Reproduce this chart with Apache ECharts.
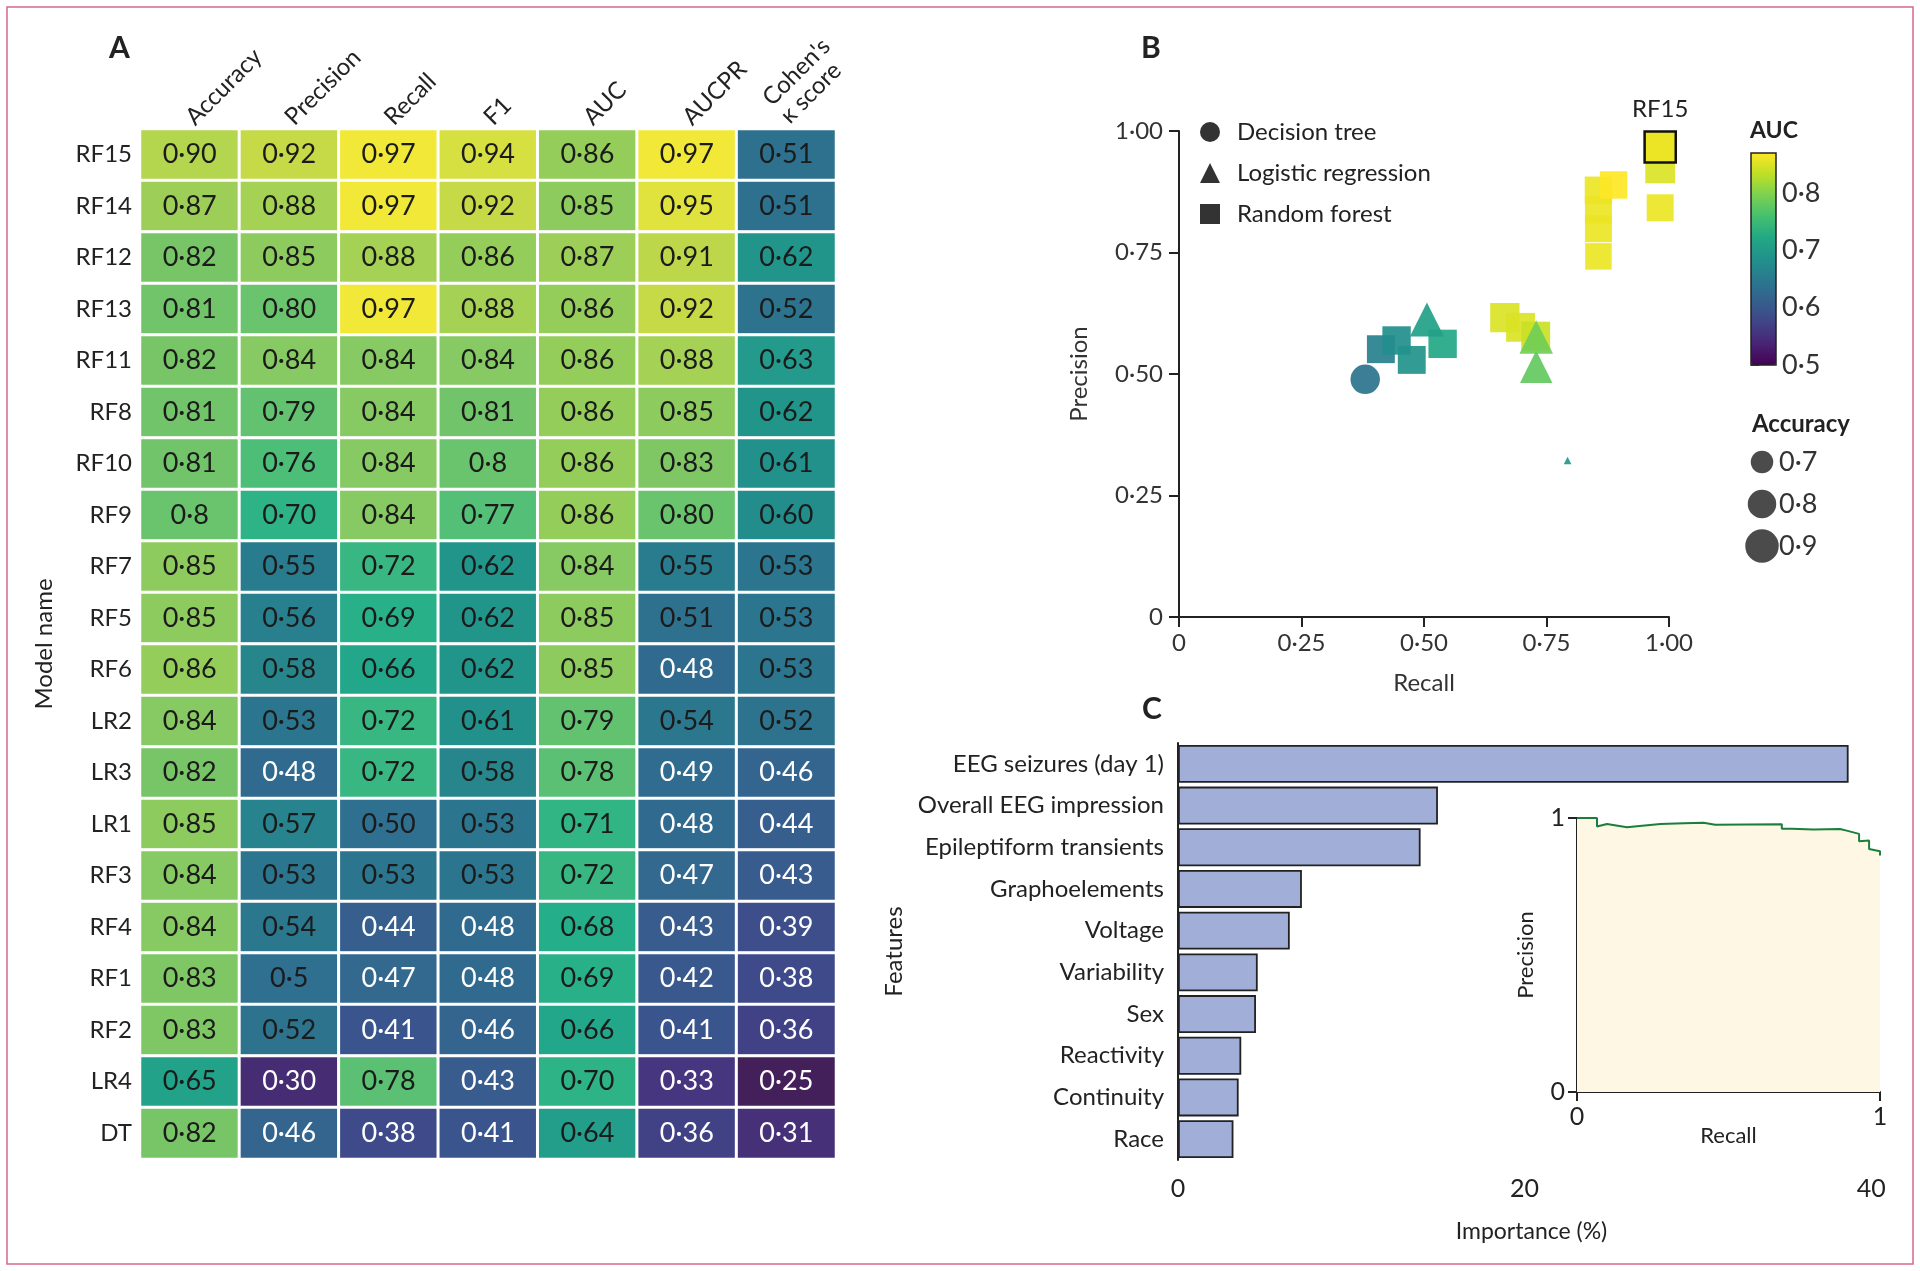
<!DOCTYPE html>
<html><head><meta charset="utf-8">
<script src="https://cdn.jsdelivr.net/npm/echarts@6/dist/echarts.min.js"></script>
<style>html,body{margin:0;padding:0;background:#fff}#c{width:1920px;height:1271px}</style>
</head><body><div id="c"></div>
<script>
// ---------- Panel A: heatmap ----------
const models = ['RF15','RF14','RF12','RF13','RF11','RF8','RF10','RF9','RF7','RF5','RF6','LR2','LR3','LR1','RF3','RF4','RF1','RF2','LR4','DT'];
const metricNames = ['Accuracy','Precision','Recall','F1','AUC','AUCPR',"Cohen's\nκ score"];
const accuracy  = ['0.90','0.87','0.82','0.81','0.82','0.81','0.81','0.8','0.85','0.85','0.86','0.84','0.82','0.85','0.84','0.84','0.83','0.83','0.65','0.82'];
const precision = ['0.92','0.88','0.85','0.80','0.84','0.79','0.76','0.70','0.55','0.56','0.58','0.53','0.48','0.57','0.53','0.54','0.5','0.52','0.30','0.46'];
const recall    = ['0.97','0.97','0.88','0.97','0.84','0.84','0.84','0.84','0.72','0.69','0.66','0.72','0.72','0.50','0.53','0.44','0.47','0.41','0.78','0.38'];
const f1        = ['0.94','0.92','0.86','0.88','0.84','0.81','0.8','0.77','0.62','0.62','0.62','0.61','0.58','0.53','0.53','0.48','0.48','0.46','0.43','0.41'];
const auc       = ['0.86','0.85','0.87','0.86','0.86','0.86','0.86','0.86','0.84','0.85','0.85','0.79','0.78','0.71','0.72','0.68','0.69','0.66','0.70','0.64'];
const aucpr     = ['0.97','0.95','0.91','0.92','0.88','0.85','0.83','0.80','0.55','0.51','0.48','0.54','0.49','0.48','0.47','0.43','0.42','0.41','0.33','0.36'];
const kappa     = ['0.51','0.51','0.62','0.52','0.63','0.62','0.61','0.60','0.53','0.53','0.53','0.52','0.46','0.44','0.43','0.39','0.38','0.36','0.25','0.31'];

// ---------- Panel B: scatter (positions) ----------
const scatterModels    = ['DT','RF2','RF4','RF1','LR1','RF3','RF6','RF5','RF7','LR2','LR3','LR4','RF9','RF10','RF8','RF11','RF12','RF13','RF14','RF15'];
const scatterRecall    = [0.380,0.412,0.444,0.475,0.506,0.538,0.665,0.697,0.728,0.729,0.729,0.793,0.856,0.856,0.856,0.856,0.887,0.982,0.982,0.982];
const scatterPrecision = [0.489,0.551,0.569,0.529,0.612,0.562,0.616,0.596,0.578,0.576,0.515,0.322,0.742,0.799,0.838,0.878,0.889,0.842,0.923,0.967];
const highlightModel = 'RF15';
const colorbarTicks = [0.5, 0.6, 0.7, 0.8];
const accLegendValues = ['0.7','0.8','0.9'];

// ---------- Panel C: feature importance ----------
const features = ['EEG seizures (day 1)','Overall EEG impression','Epileptiform transients','Graphoelements','Voltage','Variability','Sex','Reactivity','Continuity','Race'];
const importance = [38.7, 15.0, 14.0, 7.15, 6.45, 4.6, 4.5, 3.65, 3.5, 3.2];
const importanceTicks = [0, 20, 40];

// inset precision-recall curve
const prRecall    = [0, 0.066, 0.066, 0.099, 0.165, 0.198, 0.275, 0.352, 0.418, 0.456, 0.56, 0.676, 0.676, 0.709, 0.709, 0.78, 0.868, 0.89, 0.931, 0.931, 0.964, 0.964, 1.0, 1.0];
const prPrecision = [1.0, 1.0, 0.969, 0.978, 0.966, 0.970, 0.978, 0.981, 0.983, 0.975, 0.976, 0.977, 0.961, 0.961, 0.954, 0.958, 0.960, 0.954, 0.942, 0.915, 0.918, 0.887, 0.879, 0.863];

// ---------- styling ----------
const SANS = "Lato, 'Open Sans', sans-serif";
const NARROW = "Lato, sans-serif";
const INK = '#222';
const viridis = ['#440154','#482475','#414487','#355f8d','#2a788e','#21918c','#22a884','#44bf70','#7ad151','#bddf26','#fde725'];
const heatPalette = ['#43205a','#47337e','#3c508c','#33678f','#2b778e','#22918b','#24b08a','#49bd7a','#7cc666','#b2d44f','#f2e837'];
const accStops = [0.65, 0.7, 0.8, 0.9], sizeStops = [7, 22.5, 28.5, 33.5];
function sizeFor(a) {
  if (a <= accStops[0]) return sizeStops[0];
  for (let i = 1; i < accStops.length; i++) {
    if (a <= accStops[i]) {
      const t = (a - accStops[i-1]) / (accStops[i] - accStops[i-1]);
      return sizeStops[i-1] + t * (sizeStops[i] - sizeStops[i-1]);
    }
  }
  return sizeStops[sizeStops.length-1];
}
const dot = s => String(s).replace('.', '·');
const fmt2 = v => v === 0 ? '0' : dot(v.toFixed(2));

const metricCols = [accuracy, precision, recall, f1, auc, aucpr, kappa];
const hmData = [];
metricCols.forEach((col, j) => col.forEach((s, i) => {
  const v = parseFloat(s);
  hmData.push({ value: [j, i, v], label: { color: v < 0.5 ? '#ffffff' : '#1b1b1b' } });
}));
const headerData = metricNames.map(n => n.indexOf('\n') >= 0
  ? { value: n, textStyle: { verticalAlign: 'bottom', padding: [0, 0, -10, 0] } }
  : n);

const groups = { rf: [], dt: [], lr: [] };
scatterModels.forEach((m, k) => {
  const idx = models.indexOf(m);
  const g = m.startsWith('RF') ? 'rf' : (m.startsWith('LR') ? 'lr' : 'dt');
  const item = { value: [scatterRecall[k], scatterPrecision[k], parseFloat(auc[idx]), parseFloat(accuracy[idx]), m] };
  if (m === highlightModel) {
    item.itemStyle = { borderColor: '#111', borderWidth: 2.5, opacity: 1 };
    item.label = { show: true, formatter: m, position: 'top', distance: 9, fontFamily: NARROW, fontSize: 24, color: INK };
  }
  groups[g].push(item);
});

const axisLineStyle = { color: INK, width: 2 };

const option = {
  animation: false,
  backgroundColor: '#fff',
  graphic: [{ type: 'rect', silent: true, shape: { x: 7, y: 7, width: 1906, height: 1257 }, style: { fill: 'none', stroke: '#d4698a', lineWidth: 1.5 } }],
  title: [
    { text: 'A', left: 109, top: 33, padding: 0, textStyle: { fontFamily: SANS, fontSize: 30, fontWeight: 'bold', color: INK } },
    { text: 'B', left: 1141, top: 33, padding: 0, textStyle: { fontFamily: SANS, fontSize: 30, fontWeight: 'bold', color: INK } },
    { text: 'C', left: 1142, top: 694, padding: 0, textStyle: { fontFamily: SANS, fontSize: 30, fontWeight: 'bold', color: INK } },
    { text: 'AUC', left: 1750, top: 119, padding: 0, textStyle: { fontFamily: SANS, fontSize: 23, fontWeight: 'bold', color: INK } },
    { text: 'Accuracy', left: 1752, top: 412, padding: 0, textStyle: { fontFamily: SANS, fontSize: 24, fontWeight: 'bold', color: INK } }
  ],
  legend: {
    orient: 'vertical', left: 1200, top: 120, padding: 0, itemWidth: 20, itemHeight: 20, itemGap: 17,
    selectedMode: false,
    textStyle: { fontFamily: SANS, fontSize: 24, color: INK, padding: [0, 0, 0, 12] },
    data: [
      { name: 'Decision tree', icon: 'circle', itemStyle: { color: INK } },
      { name: 'Logistic regression', icon: 'triangle', itemStyle: { color: INK } },
      { name: 'Random forest', icon: 'rect', itemStyle: { color: INK } }
    ]
  },
  visualMap: [
    { type: 'continuous', show: false, seriesIndex: 0, dimension: 2, min: 0.25, max: 0.97, inRange: { color: heatPalette } },
    { type: 'continuous', seriesIndex: [1, 2, 3], dimension: 2, min: 0.5, max: 0.87, inRange: { color: viridis },
      left: 1751, top: 153, itemWidth: 25, itemHeight: 212, padding: 0, calculable: false, hoverLink: false }
  ],
  grid: [
    { left: 140, top: 129, width: 696, height: 1030 },
    { left: 1179, top: 131, width: 490, height: 486 },
    { left: 1178, top: 743, width: 707, height: 417 },
    { left: 1751, top: 153, width: 25, height: 212, show: true, backgroundColor: 'transparent', borderColor: INK, borderWidth: 1.5, z: 6 },
    { left: 1750, top: 441, width: 24, height: 126 },
    { left: 1577, top: 818, width: 303, height: 274 }
  ],
  xAxis: [
    { gridIndex: 0, type: 'category', data: headerData, position: 'top', axisLine: { show: false }, axisTick: { show: false },
      axisLabel: { rotate: -45, interval: 0, margin: 8, fontFamily: SANS, fontSize: 24, color: INK, lineHeight: 25 } },
    { gridIndex: 1, type: 'value', min: 0, max: 1, interval: 0.25, splitLine: { show: false },
      axisLine: { lineStyle: axisLineStyle }, axisTick: { length: 10, lineStyle: axisLineStyle },
      axisLabel: { margin: 14, fontFamily: SANS, fontSize: 24, color: '#333', formatter: fmt2 },
      name: 'Recall', nameLocation: 'middle', nameGap: 54, nameMoveOverlap: false, nameTextStyle: { fontFamily: SANS, fontSize: 24, color: '#333' } },
    { gridIndex: 2, type: 'value', min: 0, max: 40.8, interval: 20, splitLine: { show: false },
      axisLine: { lineStyle: axisLineStyle },
      axisTick: { length: 10, customValues: importanceTicks, lineStyle: axisLineStyle },
      axisLabel: { customValues: importanceTicks, margin: 16, fontFamily: NARROW, fontSize: 25, color: INK,
        formatter: v => (v % 20 === 0 ? String(v) : '') },
      name: 'Importance (%)', nameLocation: 'middle', nameGap: 60, nameMoveOverlap: false, nameTextStyle: { fontFamily: SANS, fontSize: 23, color: INK } },
    { gridIndex: 3, type: 'value', show: false, min: 0, max: 1 },
    { gridIndex: 4, type: 'value', show: false, min: -1, max: 1 },
    { gridIndex: 5, type: 'value', min: 0, max: 1, interval: 1, splitLine: { show: false },
      axisLine: { lineStyle: axisLineStyle }, axisTick: { length: 9, lineStyle: axisLineStyle },
      axisLabel: { margin: 12, fontFamily: NARROW, fontSize: 25, color: INK },
      name: 'Recall', nameLocation: 'middle', nameGap: 33, nameMoveOverlap: false, nameTextStyle: { fontFamily: SANS, fontSize: 22, color: INK } }
  ],
  yAxis: [
    { gridIndex: 0, type: 'category', data: models, inverse: true, axisLine: { show: false }, axisTick: { show: false },
      axisLabel: { margin: 8, fontFamily: NARROW, fontSize: 24, color: INK },
      name: 'Model name', nameLocation: 'middle', nameGap: 84, nameMoveOverlap: false, nameTextStyle: { fontFamily: SANS, fontSize: 24, color: INK } },
    { gridIndex: 1, type: 'value', min: 0, max: 1, interval: 0.25, splitLine: { show: false },
      axisLine: { show: true, lineStyle: axisLineStyle }, axisTick: { show: true, length: 10, lineStyle: axisLineStyle },
      axisLabel: { margin: 16, fontFamily: SANS, fontSize: 24, color: '#333', formatter: fmt2 },
      name: 'Precision', nameLocation: 'middle', nameGap: 88, nameMoveOverlap: false, nameTextStyle: { fontFamily: SANS, fontSize: 24, color: '#333' } },
    { gridIndex: 2, type: 'category', data: features, inverse: true,
      axisLine: { lineStyle: axisLineStyle }, axisTick: { length: 7, lineStyle: axisLineStyle },
      axisLabel: { margin: 14, fontFamily: NARROW, fontSize: 24, color: INK },
      name: 'Features', nameLocation: 'middle', nameGap: 272, nameMoveOverlap: false, nameTextStyle: { fontFamily: SANS, fontSize: 24, color: INK } },
    { gridIndex: 3, type: 'value', min: 0.5, max: 0.87, interval: 0.1, position: 'right', splitLine: { show: false },
      axisLine: { show: false },
      axisTick: { show: true, length: 8, customValues: colorbarTicks, lineStyle: { color: INK, width: 1.5 } },
      axisLabel: { customValues: colorbarTicks, margin: 6, fontFamily: SANS, fontSize: 27, color: '#333',
        formatter: v => (Math.abs(v * 10 - Math.round(v * 10)) > 1e-6 ? '' : dot(v.toFixed(1))) } },
    { gridIndex: 4, type: 'category', data: accLegendValues, inverse: true, position: 'right',
      axisLine: { show: false }, axisTick: { show: false },
      axisLabel: { margin: 5, fontFamily: SANS, fontSize: 27, color: '#333', formatter: dot } },
    { gridIndex: 5, type: 'value', min: 0, max: 1, interval: 1, splitLine: { show: false },
      axisLine: { show: true, lineStyle: axisLineStyle }, axisTick: { show: true, length: 9, lineStyle: axisLineStyle },
      axisLabel: { margin: 12, fontFamily: NARROW, fontSize: 25, color: INK },
      name: 'Precision', nameLocation: 'middle', nameGap: 40, nameMoveOverlap: false, nameTextStyle: { fontFamily: SANS, fontSize: 22, color: INK } }
  ],
  series: [
    { type: 'heatmap', xAxisIndex: 0, yAxisIndex: 0, data: hmData,
      itemStyle: { borderColor: '#ffffff', borderWidth: 3 },
      label: { show: true, fontFamily: NARROW, fontSize: 27, formatter: p => dot(metricCols[p.value[0]][p.value[1]]) },
      emphasis: { disabled: true } },
    { type: 'scatter', name: 'Random forest', xAxisIndex: 1, yAxisIndex: 1, symbol: 'rect',
      symbolSize: v => sizeFor(v[3]) * 0.93, itemStyle: { opacity: 0.92 }, data: groups.rf, z: 2 },
    { type: 'scatter', name: 'Decision tree', xAxisIndex: 1, yAxisIndex: 1, symbol: 'circle',
      symbolSize: v => sizeFor(v[3]), itemStyle: { opacity: 0.92 }, data: groups.dt, z: 3 },
    { type: 'scatter', name: 'Logistic regression', xAxisIndex: 1, yAxisIndex: 1, symbol: 'triangle',
      symbolSize: v => sizeFor(v[3]) * 1.1, itemStyle: { opacity: 0.92 }, data: groups.lr, z: 4 },
    { type: 'bar', xAxisIndex: 2, yAxisIndex: 2, data: importance, barCategoryGap: '9%',
      itemStyle: { color: '#a1afd8', borderColor: INK, borderWidth: 1.8 }, silent: true },
    { type: 'line', xAxisIndex: 5, yAxisIndex: 5, data: prRecall.map((r, i) => [r, prPrecision[i]]),
      symbol: 'none', lineStyle: { color: '#1a7f3c', width: 2 }, areaStyle: { color: '#fdf7e3', opacity: 1 }, silent: true },
    { type: 'scatter', xAxisIndex: 4, yAxisIndex: 4, silent: true,
      data: accLegendValues.map((a, i) => [0, i, parseFloat(a)]),
      symbolSize: v => sizeFor(v[2]), itemStyle: { color: '#1e1e1e' } }
  ]
};

const chart = echarts.init(document.getElementById('c'), null, { renderer: 'canvas' });
chart.setOption(option);
</script>
</body></html>
